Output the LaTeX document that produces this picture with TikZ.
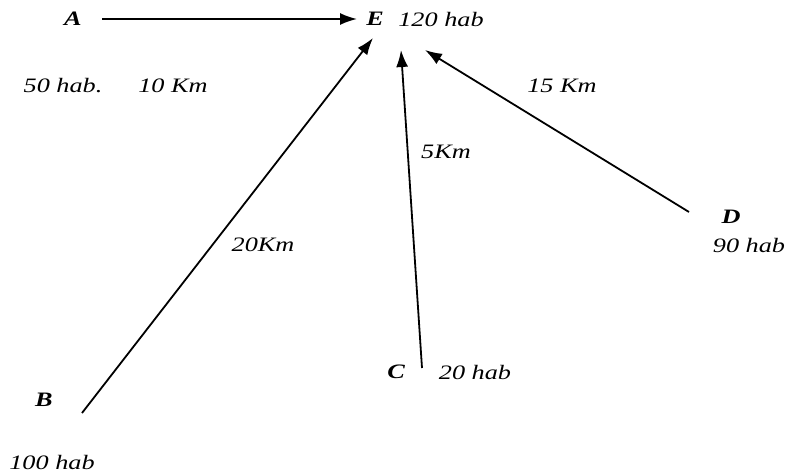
\documentclass[tikz,border=0pt]{standalone}
\usepackage{fontspec}
\setmainfont{Liberation Serif}[FakeStretch=1.28]
\usetikzlibrary{arrows.meta}
\begin{document}
\begin{tikzpicture}[x=1pt,y=-1pt,
  lbl/.style={font=\fontsize{20.5}{22}\selectfont\itshape, inner sep=0pt},
  pt/.style={font=\fontsize{20.5}{22}\selectfont\bfseries\itshape, inner sep=0pt},
  arr/.style={line width=1.8pt, -{Latex[length=17pt,width=12pt]}}]
\useasboundingbox (0,0) rectangle (788,474);
\node[pt] (A) at (73,19) {A};
\node[pt] (E) at (375,19) {E};
\node[lbl] (Eh) at (441,19) {120 hab};
\node[lbl] (Ah) at (63,86) {50 hab.};
\node[lbl] (AE) at (173,86) {10 Km};
\node[pt] (B) at (44,400) {B};
\node[lbl] (Bh) at (52,462) {100 hab};
\node[lbl] (BE) at (263,245) {20Km};
\node[pt] (C) at (396,372) {C};
\node[lbl] (Ch) at (475,372) {20 hab};
\node[lbl] (CE) at (446,152) {5Km};
\node[pt] (D) at (731,217) {D};
\node[lbl] (Dh) at (749,245) {90 hab};
\node[lbl] (DE) at (562,86) {15 Km};
\coordinate (a0) at (102,19);
\coordinate (a1) at (357,19);
\coordinate (b0) at (82,413);
\coordinate (b1) at (373,38);
\coordinate (c0) at (422,368);
\coordinate (c1) at (401,50);
\coordinate (d0) at (689,212);
\coordinate (d1) at (425,50);
\draw[arr] (a0) -- (a1);
\draw[arr] (b0) -- (b1);
\draw[arr] (c0) -- (c1);
\draw[arr] (d0) -- (d1);
\end{tikzpicture}
\end{document}
